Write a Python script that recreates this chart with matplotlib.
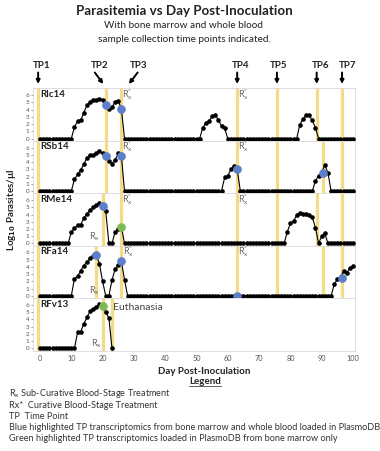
import numpy as np
import matplotlib
matplotlib.use("Agg")
import matplotlib.pyplot as plt
from matplotlib import transforms

plt.rcParams['font.family'] = ['Lato', 'DejaVu Sans']

# ---------------- data ----------------
animals = ["Rlc14", "RSb14", "RMe14", "RFa14", "RFv13"]

rlc14 = ([0]*11 + [1.6, 2.4, 2.5, 3.6, 4.6, 5.1, 5.4, 5.4, 5.5, 5.4, 4.7, 4.1, 4.3, 5.1, 5.2, 4.1]
         + [0]*25 + [1.5, 2.2, 2.4, 3.1, 3.2, 2.6, 1.7, 1.4]
         + [0]*23 + [1.9, 2.7, 3.2, 3.2, 2.5, 1.5] + [0]*12)
rsb14 = ([0]*11 + [1.6, 2.3, 2.9, 3.7, 4.6, 5.0, 5.0, 5.2, 5.5, 5.2, 4.8, 4.2, 3.8, 4.3, 5.2, 4.8]
         + [0]*32 + [1.9, 2.1, 3.0, 3.4, 3.0]
         + [0]*24 + [1.4, 2.1, 2.6, 3.6, 2.5] + [0]*8)
rme14 = ([0]*10 + [1.6, 2.1, 2.5, 2.6, 3.5, 4.1, 4.6, 5.0, 5.3, 5.6, 5.2, 4.5]
         + [0]*2 + [1.6, 2.0, 2.3]
         + [0]*52 + [1.6, 2.8, 3.1, 3.9, 4.2, 4.1, 4.1, 3.9, 3.6, 2.2]
         + [0] + [1.0, 1.4] + [0]*9)
rfa14 = ([0]*11 + [2.4, 2.7, 3.5, 4.2, 4.7, 5.2, 5.5, 5.7, 4.4, 2.0]
         + [0]*2 + [2.2, 3.7, 4.3, 4.8, 2.2]
         + [0]*66 + [1.6, 2.3, 2.5, 3.5, 3.2, 3.8, 4.2])
rfv13 = [0]*12 + [2.2, 2.3, 3.4, 4.3, 5.1, 5.4, 5.7, 6.1, 5.9, 5.0, 4.2, 0]
series = [rlc14, rsb14, rme14, rfa14, rfv13]

# sample collection time points (yellow lines) per animal
tp_days = [
    [-0.8, 21, 26, 63, 75.7, 88.4, 96.5],
    [-0.8, 21, 26, 63, 75.7, 90.5, 96.5],
    [-0.8, 20, 26, 63, 75.7, 88.4, 96.5],
    [-0.8, 18, 26, 63, 75.7, 90.5, 96.5],
    [-0.8, 20, 23],
]
# highlighted transcriptomics points
blue_days = [[21, 26], [21, 26, 63, 90.4], [20], [18, 26, 63, 96.5], []]
blue_vals = [[4.7, 4.1], [4.8, 4.8, 3.0, 2.5], [5.2], [5.7, 4.8, 0, 2.45], []]
green_days = [[], [], [26], [], [20]]
green_vals = [[], [], [2.3], [], [5.9]]

# treatment labels
rx_cur_days = [[26.2, 63.3], [26.2, 63.3], [26.2, 63.3], [26.6, 63.3], []]
rx_cur_vals = [6.1, 6.1, 6.1, 6.1, 6.1]
rx_sub_days = [[], [], [15.6], [15.6], [16.3]]
rx_sub_vals = [0.9, 0.9, 0.9, 0.7, 0.6]

tp_labels = ["TP1", "TP2", "TP3", "TP4", "TP5", "TP6", "TP7"]
tp_label_days = [0.5, 19.0, 31.5, 64.2, 76.3, 89.6, 98.2]
xticks = list(range(0, 101, 10))
yticks = list(range(0, 7))

legend_lines = [
    r"R$_\mathregular{x}$ Sub-Curative Blood-Stage Treatment",
    "Rx*  Curative Blood-Stage Treatment",
    "TP  Time Point",
    "Blue highlighted TP transcriptomics from bone marrow and whole blood loaded in PlasmoDB",
    "Green highlighted TP transcriptomics loaded in PlasmoDB from bone marrow only",
]

# ---------------- style ----------------
W, H = 380, 451
YEL = "#F2DC86"
BLUE = "#5B7FC9"
GREEN = "#7DB955"
TXT = "#333333"
GRAY = "#666666"

fig = plt.figure(figsize=(W/100, H/100), dpi=100)
fig.patch.set_facecolor("white")
axes = fig.subplots(5, 1, sharex=True, gridspec_kw=dict(hspace=0))
fig.subplots_adjust(left=33/W, right=355/W, bottom=1-350.5/H, top=1-88.3/H)

for i, ax in enumerate(axes):
    vals = series[i]
    days = np.arange(len(vals))
    for d in tp_days[i]:
        ax.axvline(d, color=YEL, lw=2.3, zorder=1)
    ax.plot(days, vals, color="black", lw=0.8, marker="o", ms=2.3, zorder=3)
    if blue_days[i]:
        ax.plot(blue_days[i], blue_vals[i], "o", color=BLUE, ms=5.2, zorder=4)
    if green_days[i]:
        ax.plot(green_days[i], green_vals[i], "o", color=GREEN, ms=5.2, zorder=4)
    ax.text(0.0, 6.1, animals[i], fontsize=7, fontweight="bold", color="#222222",
            va="center", ha="left", zorder=5)
    for d in rx_cur_days[i]:
        ax.text(d, rx_cur_vals[i], r"R$_\mathregular{x}^\mathregular{*}$", fontsize=6.5,
                color=GRAY, va="center", ha="left", zorder=5)
    for d in rx_sub_days[i]:
        ax.text(d, rx_sub_vals[i], r"R$_\mathregular{x}$", fontsize=6.5,
                color=GRAY, va="center", ha="left", zorder=5)
    ax.set_xlim(-2.24, 100.64)
    ax.set_ylim(-0.3, 6.95)
    ax.set_yticks(yticks)
    ax.tick_params(axis="y", labelsize=4.5, length=1.5, width=0.4, pad=1,
                   colors="#555555")
    ax.tick_params(axis="x", labelsize=5.3, length=0, pad=3.5, colors="#555555")
    for s in ax.spines.values():
        s.set_color("#D8D8D8")
        s.set_linewidth(0.6)

axes[-1].set_xticks(xticks)
axes[4].text(23.4, 5.7, "Euthanasia", fontsize=7.5, color="#444444", va="center",
             ha="left", zorder=5)

# titles
fig.text(184/W, 1-11/H, "Parasitemia vs Day Post-Inoculation", fontsize=9.6,
         fontweight="bold", color="#222222", ha="center", va="center")
fig.text(184/W, 1-25.5/H, "With bone marrow and whole blood", fontsize=7.2,
         color="#222222", ha="center", va="center")
fig.text(184/W, 1-40/H, "sample collection time points indicated.", fontsize=7.2,
         color="#222222", ha="center", va="center")

# y label
fig.text(12/W, 1-210/H, r"Log$_\mathbf{10}$ Parasites/µl", fontsize=7,
         fontweight="bold", color="#222222", rotation=90, ha="center", va="center")

# TP labels and arrows
bt = transforms.blended_transform_factory(axes[0].transData, fig.transFigure)
for lab, d in zip(tp_labels, tp_label_days):
    axes[0].text(d, 1-65/H, lab, transform=bt, fontsize=7, fontweight="bold",
                 color="#222222", ha="center", va="center")
arrows = [(-0.6, -0.6), (17.5, 20.2), (31.2, 28.4), (63, 63), (75.7, 75.7),
          (88.4, 88.4), (96.5, 96.5)]
for (x0, x1) in arrows:
    axes[0].annotate("", xy=(x1, 1-84/H), xytext=(x0, 1-72.5/H),
                     xycoords=bt, textcoords=bt,
                     arrowprops=dict(arrowstyle="-|>", color="black", lw=1.4,
                                     mutation_scale=5.5, shrinkA=0, shrinkB=0))

# x label & legend
fig.text(204/W, 1-371.5/H, "Day Post-Inoculation", fontsize=7, fontweight="bold",
         color="#222222", ha="center", va="center")
leg = fig.text(205/W, 1-382/H, "Legend", fontsize=7, fontweight="bold",
               color="#222222", ha="center", va="center")
fig.canvas.draw()
bb = leg.get_window_extent()
fig.add_artist(plt.Line2D([bb.x0/W, bb.x1/W], [(bb.y0+0.3)/H, (bb.y0+0.3)/H],
                          color="#222222", lw=0.5))
ys = [394, 405.5, 416.7, 427.7, 438.5]
for y, t in zip(ys, legend_lines):
    fig.text(9/W, 1-y/H, t, fontsize=6.6, color=TXT, ha="left", va="center")

fig.savefig("out.png", dpi=100)
